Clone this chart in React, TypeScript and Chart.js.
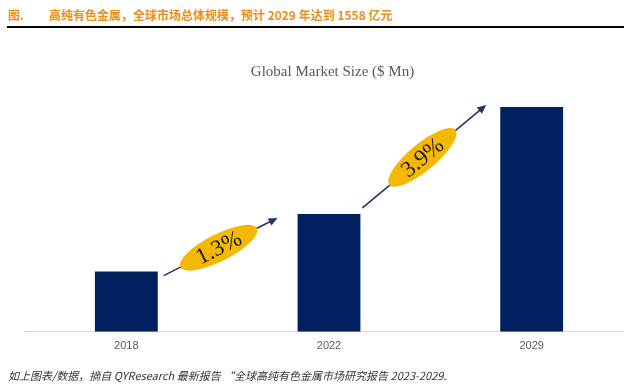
import React, { useEffect, useRef } from "react";
import { Chart, registerables } from "chart.js";

Chart.register(...registerables);

const categories = ["2018", "2022", "2029"];
const marketSize = [417, 817, 1558];
const growthLabels = ["1.3%", "3.9%"];

const headerText = "高纯有色金属，全球市场总体规模，预计 2029 年达到 1558 亿元";
const chartTitle = "Global Market Size ($ Mn)";
const footerText = "如上图表/数据，摘自 QYResearch 最新报告 “全球高纯有色金属市场研究报告 2023-2029.";

const BAR_COLOR = "#00205F";
const ARROW_COLOR = "#1F3864";
const ELLIPSE_COLOR = "#F5B800";

// per-arrow offsets relative to bar corners: [startDx, startDy, endDx, endDy]
const arrowOffsets = [
  [6, 4, -20, 4],
  [2, -6, -14, -2],
];

const growthPlugin = {
  id: "growthArrows",
  afterDatasetsDraw(chart: any) {
    const meta = chart.getDatasetMeta(0);
    const ctx = chart.ctx as CanvasRenderingContext2D;
    for (let i = 0; i < growthLabels.length; i++) {
      const a = meta.data[i];
      const b = meta.data[i + 1];
      if (!a || !b) continue;
      const off = arrowOffsets[i];
      const sx = a.x + a.width / 2 + off[0];
      const sy = a.y + off[1];
      const ex = b.x - b.width / 2 + off[2];
      const ey = b.y + off[3];
      const ang = Math.atan2(ey - sy, ex - sx);
      ctx.save();
      ctx.strokeStyle = ARROW_COLOR;
      ctx.fillStyle = ARROW_COLOR;
      ctx.lineWidth = 1.6;
      const headLen = 9;
      ctx.beginPath();
      ctx.moveTo(sx, sy);
      ctx.lineTo(ex - Math.cos(ang) * headLen * 0.6, ey - Math.sin(ang) * headLen * 0.6);
      ctx.stroke();
      ctx.beginPath();
      ctx.moveTo(ex, ey);
      ctx.lineTo(
        ex - headLen * Math.cos(ang) + 4 * Math.sin(ang),
        ey - headLen * Math.sin(ang) - 4 * Math.cos(ang)
      );
      ctx.lineTo(
        ex - headLen * Math.cos(ang) - 4 * Math.sin(ang),
        ey - headLen * Math.sin(ang) + 4 * Math.cos(ang)
      );
      ctx.closePath();
      ctx.fill();
      const cx = (sx + ex) / 2 - 2;
      const cy = (sy + ey) / 2 + 1;
      ctx.translate(cx, cy);
      ctx.rotate(ang);
      ctx.beginPath();
      ctx.ellipse(0, 0, 43, 13.5, 0, 0, Math.PI * 2);
      ctx.fillStyle = ELLIPSE_COLOR;
      ctx.fill();
      ctx.fillStyle = "#1a1a1a";
      ctx.font = "23px 'Liberation Serif', serif";
      ctx.textAlign = "center";
      ctx.textBaseline = "middle";
      ctx.fillText(growthLabels[i], 0, 1);
      ctx.restore();
    }
  },
};

export default function App() {
  const ref = useRef<HTMLCanvasElement | null>(null);
  useEffect(() => {
    document.body.style.margin = "0";
    if (!ref.current) return;
    const chart = new Chart(ref.current, {
      type: "bar",
      data: {
        labels: categories,
        datasets: [
          {
            data: marketSize,
            backgroundColor: BAR_COLOR,
            barPercentage: 0.31,
            categoryPercentage: 1,
          },
        ],
      },
      options: {
        animation: false,
        responsive: false,
        maintainAspectRatio: false,
        layout: { padding: { left: 25, right: 7, top: 72, bottom: 27 } },
        plugins: {
          legend: { display: false },
          tooltip: { enabled: false },
          title: { display: false },
        },
        scales: {
          x: {
            grid: { display: false, drawTicks: false },
            border: { display: true, color: "#D9D9D9", width: 1 },
            ticks: {
              color: "#595959",
              padding: 8,
              font: { family: "'Liberation Sans', sans-serif", size: 11 },
            },
          },
          y: {
            display: false,
            min: 0,
            max: 1800,
          },
        },
      },
      plugins: [growthPlugin],
    });
    return () => chart.destroy();
  }, []);

  return (
    <div
      style={{
        position: "fixed",
        left: 0,
        top: 0,
        width: 624,
        height: 388,
        overflow: "hidden",
        background: "#fff",
      }}
    >
      <div
        style={{
          position: "absolute",
          left: 8,
          top: 5,
          fontFamily: "'Noto Sans CJK SC', sans-serif",
          fontWeight: 700,
          fontSize: 12,
          color: "#E8901A",
          whiteSpace: "nowrap",
          lineHeight: "20px",
        }}
      >
        <span>图.</span>
        <span style={{ marginLeft: 25 }}>{headerText}</span>
      </div>
      <div
        style={{
          position: "absolute",
          left: 7,
          top: 26,
          width: 617,
          height: 1.5,
          background: "#000",
        }}
      />
      <canvas
        ref={ref}
        width={640}
        height={388}
        style={{ position: "absolute", left: 0, top: 0, width: 640, height: 388 }}
      />
      <div
        style={{
          position: "absolute",
          left: 0,
          width: 665,
          top: 61,
          textAlign: "center",
          fontFamily: "'Liberation Serif', serif",
          fontSize: 15,
          color: "#595959",
          lineHeight: "20px",
          whiteSpace: "nowrap",
        }}
      >
        {chartTitle}
      </div>
      <div
        style={{
          position: "absolute",
          left: 8,
          top: 366,
          fontFamily: "'Noto Sans CJK SC', sans-serif",
          fontStyle: "italic",
          fontSize: 11,
          color: "#333",
          whiteSpace: "nowrap",
          lineHeight: "18px",
        }}
      >
        {footerText}
      </div>
    </div>
  );
}
